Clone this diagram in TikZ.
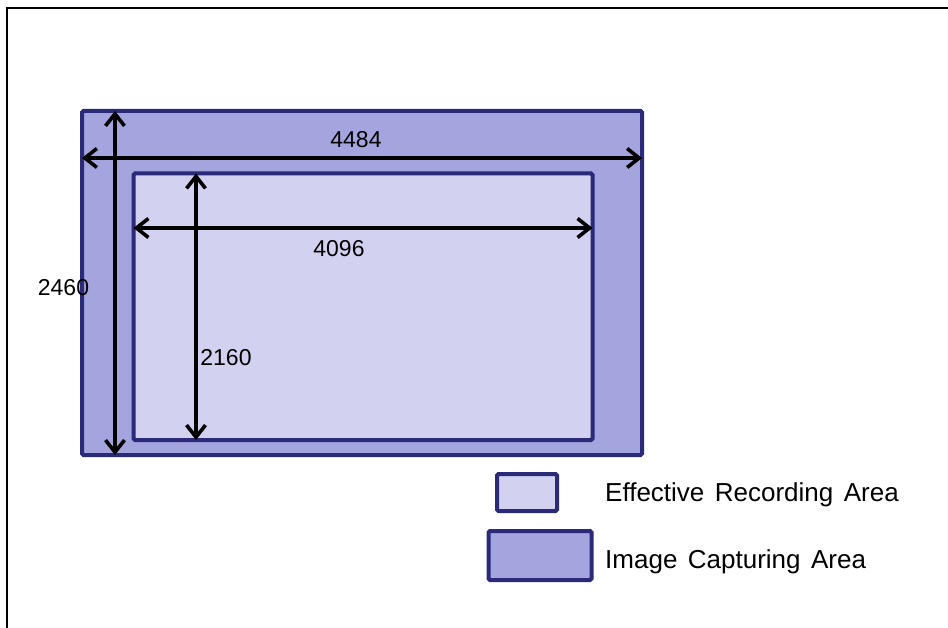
\documentclass[tikz,border=0pt]{standalone}
\usepackage{fontspec}
\setmainfont{Liberation Sans}
\newfontfamily\keyfont[WordSpace=1.45]{Liberation Sans}
\usetikzlibrary{arrows.meta}
\definecolor{areaedge}{RGB}{42,42,120}
\definecolor{capfill}{RGB}{164,164,222}
\definecolor{recfill}{RGB}{210,210,240}
\begin{document}
\begin{tikzpicture}[x=1pt, y=-1pt,
    area/.style={draw=areaedge, line width=4pt, rounded corners=1.5pt, inner sep=0pt, outer sep=0pt},
    dim/.style={line width=3.6pt, {Straight Barb[length=12pt, width=19pt]}-{Straight Barb[length=12pt, width=19pt]}},
    num/.style={inner sep=0pt, font=\fontsize{23pt}{26pt}\selectfont},
    keytext/.style={inner sep=0pt, font=\keyfont\fontsize{26pt}{30pt}\selectfont}]
  \useasboundingbox (0,0) rectangle (948,628);
  % frame
  \draw[line width=2.8pt] (7,640) -- (7,8) -- (960,8);
  % areas
  \node[area, fill=capfill, minimum width=560pt, minimum height=344pt] (capture) at (362,283) {};
  \node[area, fill=recfill, minimum width=459pt, minimum height=266.5pt] (record) at (363,306.75) {};
  % dimensions
  \draw[dim] (capture.west |- 0,158) -- (capture.east |- 0,158);
  \draw[dim] (capture.north -| 115,0) -- (capture.south -| 115,0);
  \draw[dim] (record.west |- 0,228) -- (record.east |- 0,228);
  \draw[dim] (record.north -| 196,0) -- (record.south -| 196,0);
  \node[num] (w4484) at (356,139.5) {4484};
  \node[num] (w4096) at (339,249) {4096};
  \node[num] (h2460) at (63.5,288) {2460};
  \node[num] (h2160) at (226,357.7) {2160};
  % legend
  \node[area, fill=recfill, minimum width=60pt, minimum height=37pt] (keyrec) at (527,492.5) {};
  \node[area, fill=capfill, minimum width=103pt, minimum height=49pt] (keycap) at (540,555.5) {};
  \node[keytext, anchor=base west] (keyrectext) at (605,501.7) {Effective Recording Area};
  \node[keytext, anchor=base west] (keycaptext) at (605,568) {Image Capturing Area};
\end{tikzpicture}
\end{document}
